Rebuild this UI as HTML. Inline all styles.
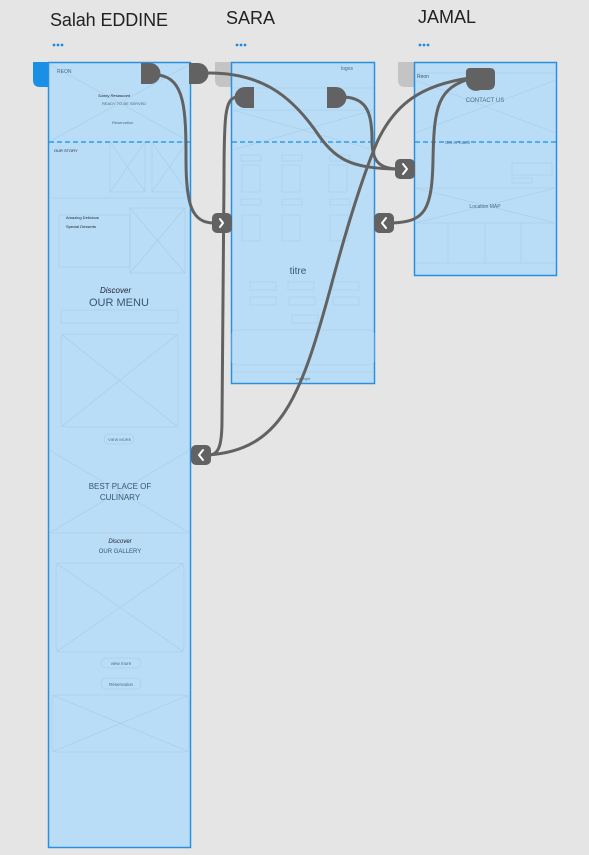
<!DOCTYPE html>
<html><head><meta charset="utf-8"><style>
html,body{margin:0;padding:0;background:#e5e5e5;width:589px;height:855px;overflow:hidden}
svg{display:block}
text{font-family:"Liberation Sans",sans-serif}
</style></head><body>
<svg width="589" height="855" viewBox="0 0 589 855">
<rect width="589" height="855" fill="#e5e5e5"/>
<!-- titles -->
<text x="50" y="26" font-size="18" fill="#222" textLength="118">Salah EDDINE</text>
<text x="226" y="24" font-size="18" fill="#222">SARA</text>
<text x="418" y="23" font-size="18" fill="#222">JAMAL</text>
<g fill="#1e88e5"><circle cx="54" cy="45" r="1.4"/><circle cx="58" cy="45" r="1.4"/><circle cx="62" cy="45" r="1.4"/>
<circle cx="237" cy="45" r="1.4"/><circle cx="241" cy="45" r="1.4"/><circle cx="245" cy="45" r="1.4"/>
<circle cx="420" cy="45" r="1.4"/><circle cx="424" cy="45" r="1.4"/><circle cx="428" cy="45" r="1.4"/></g>
<!-- tabs -->
<path d="M33,62 H49 V87 H40 Q33,87 33,80 Z" fill="#1a8fe6"/>
<path d="M215,62 H231 V87 H222 Q215,87 215,80 Z" fill="#c4c4c4"/>
<path d="M398,62 H414 V87 H405 Q398,87 398,80 Z" fill="#c4c4c4"/>
<!-- artboards -->
<rect x="48.5" y="62.5" width="142" height="785" fill="#b9ddf6" stroke="#2a8fe0" stroke-width="1.5"/>
<rect x="231.5" y="62.5" width="143" height="321" fill="#b9ddf6" stroke="#2a8fe0" stroke-width="1.5"/>
<rect x="414.5" y="62.5" width="142" height="213" fill="#b9ddf6" stroke="#2a8fe0" stroke-width="1.5"/>
<!-- wireframe faint content -->
<g stroke="#a6cbe6" stroke-width="0.6" fill="none">
<line x1="49" y1="64" x2="190" y2="142"/><line x1="190" y1="64" x2="49" y2="142"/>
<rect x="110" y="142" width="35" height="50"/><line x1="110" y1="142" x2="145" y2="192"/><line x1="145" y1="142" x2="110" y2="192"/>
<rect x="152" y="142" width="35" height="50"/><line x1="152" y1="142" x2="187" y2="192"/><line x1="187" y1="142" x2="152" y2="192"/>
<line x1="49" y1="198" x2="190" y2="198"/>
<rect x="59" y="215" width="71" height="52"/>
<rect x="130" y="208" width="55" height="65"/><line x1="130" y1="208" x2="185" y2="273"/><line x1="185" y1="208" x2="130" y2="273"/>
<rect x="61" y="310" width="117" height="13"/>
<rect x="61" y="334" width="117" height="93" rx="5"/><line x1="61" y1="334" x2="178" y2="427"/><line x1="178" y1="334" x2="61" y2="427"/>
<rect x="104" y="434" width="30" height="10" rx="5"/>
<line x1="49" y1="450" x2="190" y2="533"/><line x1="190" y1="450" x2="49" y2="533"/><line x1="49" y1="533" x2="190" y2="533"/>
<rect x="56" y="563" width="128" height="89" rx="5"/><line x1="56" y1="563" x2="184" y2="652"/><line x1="184" y1="563" x2="56" y2="652"/>
<rect x="101" y="658" width="40" height="10" rx="5"/>
<rect x="101" y="678" width="40" height="11" rx="5"/>
<rect x="52" y="695" width="137" height="57" rx="5"/><line x1="52" y1="695" x2="189" y2="752"/><line x1="189" y1="695" x2="52" y2="752"/>
<!-- artboard 2 -->
<line x1="232" y1="88" x2="374" y2="88"/><line x1="232" y1="110" x2="374" y2="110"/>
<line x1="232" y1="110" x2="374" y2="150"/><line x1="374" y1="110" x2="232" y2="150"/>
<rect x="241" y="155" width="20" height="6"/><rect x="282" y="155" width="20" height="6"/><rect x="330" y="155" width="20" height="6"/>
<rect x="242" y="165" width="18" height="27"/><rect x="282" y="165" width="18" height="27"/><rect x="329" y="165" width="18" height="27"/>
<rect x="241" y="199" width="20" height="6"/><rect x="282" y="199" width="20" height="6"/><rect x="330" y="199" width="20" height="6"/>
<rect x="242" y="215" width="18" height="26"/><rect x="282" y="215" width="18" height="26"/><rect x="330" y="215" width="18" height="26"/>
<rect x="250" y="282" width="26" height="8"/><rect x="288" y="282" width="26" height="8"/><rect x="333" y="282" width="26" height="8"/>
<rect x="250" y="297" width="26" height="8"/><rect x="289" y="297" width="26" height="8"/><rect x="333" y="297" width="26" height="8"/>
<rect x="292" y="315" width="26" height="8"/>
<rect x="232" y="330" width="142" height="35" rx="4"/>
<line x1="232" y1="372" x2="374" y2="372"/>
<!-- artboard 3 -->
<line x1="415" y1="73" x2="556" y2="73"/><line x1="415" y1="80" x2="556" y2="133"/><line x1="556" y1="80" x2="415" y2="133"/>
<line x1="415" y1="188" x2="556" y2="188"/><line x1="415" y1="188" x2="556" y2="223"/><line x1="556" y1="188" x2="415" y2="223"/>
<line x1="415" y1="223" x2="556" y2="223"/><line x1="448" y1="223" x2="448" y2="263"/><line x1="485" y1="223" x2="485" y2="263"/><line x1="521" y1="223" x2="521" y2="263"/>
<line x1="415" y1="263" x2="556" y2="263"/>
<rect x="512" y="178" width="20" height="5"/><rect x="512" y="163" width="40" height="12"/>
</g>
<!-- texts -->
<g fill="#4a6a85" font-size="4">
<text x="57" y="73" font-size="5">REON</text>
<text x="98" y="97" font-style="italic" fill="#223">Sunny Restaurant</text>
<text x="102" y="105">READY TO BE SERVED</text>
<text x="112" y="124">Réservation</text>
<text x="54" y="152" fill="#223">OUR STORY</text>
<text x="66" y="219" fill="#223">Amazing Delicious</text>
<text x="66" y="228" fill="#223">Special Desserts</text>
</g>
<text x="100" y="293" font-size="8" font-style="italic" fill="#223">Discover</text>
<text x="89" y="306" font-size="11" fill="#3a5670">OUR MENU</text>
<text x="108" y="441" font-size="4" fill="#4a6a85">VIEW MORE</text>
<text x="120" y="489" font-size="8" fill="#3a5670" text-anchor="middle">BEST PLACE OF</text>
<text x="120" y="500" font-size="8" fill="#3a5670" text-anchor="middle">CULINARY</text>
<text x="120" y="543" font-size="6" font-style="italic" fill="#223" text-anchor="middle">Discover</text>
<text x="120" y="553" font-size="6" fill="#3a5670" text-anchor="middle">OUR GALLERY</text>
<text x="121" y="665" font-size="4.5" fill="#4a6a85" text-anchor="middle">view more</text>
<text x="121" y="686" font-size="4.5" fill="#4a6a85" text-anchor="middle">Réservation</text>
<text x="341" y="70" font-size="5" fill="#4a6a85">logos</text>
<text x="298" y="274" font-size="10" fill="#3a5670" text-anchor="middle">titre</text>
<text x="303" y="380" font-size="3.5" fill="#4a6a85" text-anchor="middle">copyright</text>
<text x="417" y="78" font-size="5" fill="#3a5670">Reon</text>
<text x="485" y="102" font-size="6" fill="#4a6a85" text-anchor="middle">CONTACT US</text>
<text x="445" y="144" font-size="4.5" fill="#4a6a85">Get in Touch</text>
<text x="485" y="208" font-size="5" fill="#4a6a85" text-anchor="middle">Location MAP</text>
<!-- dashed lines -->
<g stroke="#1a8fe6" stroke-width="1.3" stroke-dasharray="5,3">
<line x1="49" y1="142" x2="190" y2="142"/><line x1="232" y1="142" x2="374" y2="142"/><line x1="415" y1="142" x2="556" y2="142"/>
</g>
<!-- connectors -->
<g fill="none" stroke="#626262" stroke-width="3">
<path d="M158,75 C185,78 186,110 186,160 C186,205 192,223 214,223"/>
<path d="M206,73 C260,72 290,95 315,130 C335,160 350,168 396,169"/>
<path d="M237,97 C225,98 224,115 224,180 L222,420 C222,448 218,455 208,455"/>
<path d="M344,97 C368,98 372,115 372,140 C372,160 378,168 396,169"/>
<path d="M392,223 C425,222 432,210 433,160 C434,105 438,88 472,78"/>
<path d="M208,455 C280,450 300,400 330,290 C350,215 365,170 378,140 C395,105 420,85 470,78"/>
</g>
<!-- handles -->
<g fill="#626262">
<path d="M141,63 H150 A10,10 0 0 1 150,84 H141 Z"/>
<path d="M189,63 H198 A10,10 0 0 1 198,84 H189 Z"/>
<path d="M254,87 H245 A10,10 0 0 0 245,108 H254 Z"/>
<path d="M327,87 H336 A10,10 0 0 1 336,108 H327 Z"/>
<path d="M470,68 H490 Q495,68 495,73 V83 Q495,90 488,90 H480 A10,10 0 0 1 466,80 V72 Q466,68 470,68 Z"/>
<rect x="212" y="213" width="20" height="20" rx="5"/>
<rect x="374" y="213" width="20" height="20" rx="5"/>
<rect x="395" y="159" width="20" height="20" rx="5"/>
<rect x="191" y="445" width="20" height="20" rx="5"/>
</g>
<g fill="none" stroke="#fff" stroke-width="2" stroke-linecap="round" stroke-linejoin="round">
<path d="M220,219 l3,4 l-3,4"/>
<path d="M386,218 l-4,5 l4,5"/>
<path d="M403,164 l4,5 l-4,5"/>
<path d="M203,450 l-4,5 l4,5"/>
</g>
</svg>
</body></html>
